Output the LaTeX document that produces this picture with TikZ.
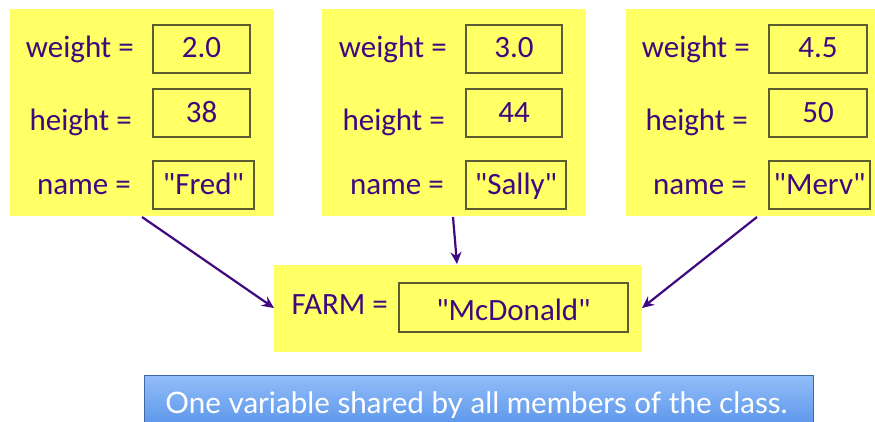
\documentclass[tikz,border=0pt]{standalone}
\usepackage{fontspec}
\setmainfont{Carlito}[Ligatures=TeXOff]
\newfontfamily\barfont{Lato}
\usetikzlibrary{arrows.meta}
\definecolor{pyellow}{HTML}{FFFF66}
\definecolor{ink}{HTML}{40087F}
\definecolor{boxedge}{HTML}{5C5C30}
\definecolor{bartop}{HTML}{92BEF8}
\definecolor{barbot}{HTML}{5A94EA}
\tikzset{
  objbox/.style={fill=pyellow, draw=none},
  valbox/.style={fill=pyellow, draw=boxedge, line width=1.2pt},
  lbl/.style={anchor=base east, inner sep=0pt, text=ink, font=\fontsize{31}{33}\selectfont},
  val/.style={anchor=base, inner sep=0pt, text=ink, font=\fontsize{31}{33}\selectfont},
  link/.style={draw=ink, line width=2.2pt, -{Stealth[length=12pt,width=11pt,inset=4pt]}},
}
\begin{document}
\begin{tikzpicture}[x=1pt,y=-1pt]
\useasboundingbox (0,0) rectangle (875,422);
% object boxes
\path[objbox] (10,9) rectangle (274,216);
\path[objbox] (322,9) rectangle (586,216);
\path[objbox] (626,9) rectangle (875,216);
\path[objbox] (274,265) rectangle (642,352);
\coordinate (o1) at (142,217);
\coordinate (o2) at (453,217);
\coordinate (o3) at (757,217);
% box 1
\draw[valbox] (153,25) rectangle (250,73);
\draw[valbox] (153,89) rectangle (250,137);
\draw[valbox] (153,161) rectangle (254,209);
\node[lbl] (w1) at (134,58) {weight =};
\node[lbl] (h1) at (132,131) {height =};
\node[lbl] (n1) at (131,194) {name =};
\node[val] (wv1) at (201.5,58) {2.0};
\node[val] (hv1) at (201.5,123) {38};
\node[val] (nv1) at (203.5,194) {"Fred"};
% box 2
\draw[valbox] (466,25) rectangle (562,73);
\draw[valbox] (466,89) rectangle (562,137);
\draw[valbox] (466,161) rectangle (566,209);
\node[lbl] (w2) at (447,58) {weight =};
\node[lbl] (h2) at (445,131) {height =};
\node[lbl] (n2) at (444,194) {name =};
\node[val] (wv2) at (514,58) {3.0};
\node[val] (hv2) at (514,123) {44};
\node[val] (nv2) at (516,194) {"Sally"};
% box 3
\draw[valbox] (769,25) rectangle (867,73);
\draw[valbox] (769,89) rectangle (867,137);
\draw[valbox] (769,161) rectangle (870,209);
\node[lbl] (w3) at (750,58) {weight =};
\node[lbl] (h3) at (748,131) {height =};
\node[lbl] (n3) at (747,194) {name =};
\node[val] (wv3) at (818,58) {4.5};
\node[val] (hv3) at (818,123) {50};
\node[val] (nv3) at (819.5,194) {"Merv"};
% farm
\draw[valbox] (399,283) rectangle (628,332);
\node[lbl] (farm) at (388,314) {FARM =};
\node[val] (mcd) at (513.5,320) {"McDonald"};
\coordinate (f1) at (274,308);
\coordinate (f2) at (457,264);
\coordinate (f3) at (642,308);
% arrows
\draw[link] (o1) -- (f1);
\draw[link] (o2) -- (f2);
\draw[link] (o3) -- (f3);
% banner
\node[draw=barbot!70!black, line width=0.6pt, top color=bartop, bottom color=barbot,
      minimum width=669pt, minimum height=52pt, anchor=north west, inner sep=0pt] (bar) at (144,375) {};
\node[anchor=base, inner sep=0pt, text=white, font=\barfont\fontsize{29.6}{31}\selectfont] (bartext) at (476.5,413) {One variable shared by all members of the class.};
\end{tikzpicture}
\end{document}
